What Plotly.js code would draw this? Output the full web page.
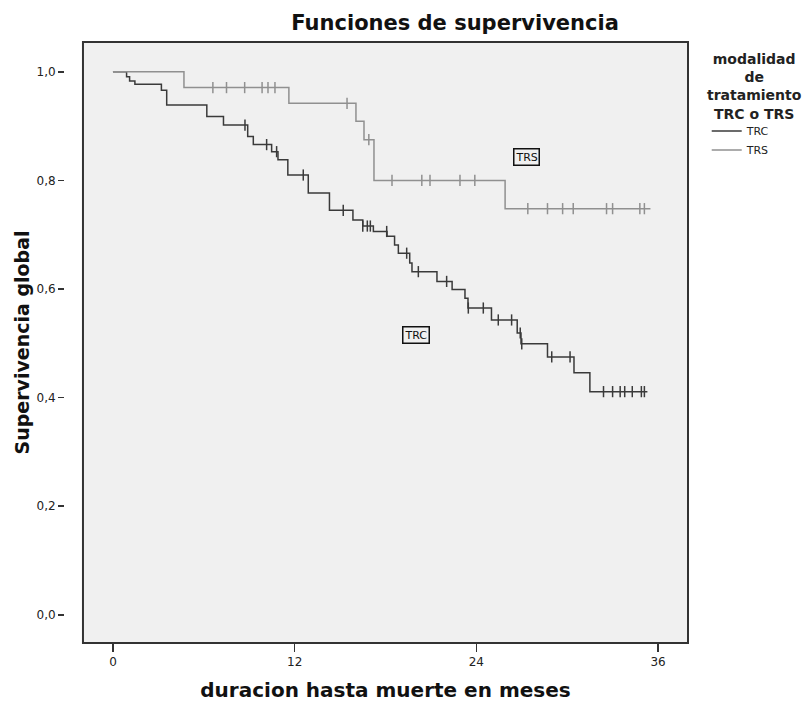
<!DOCTYPE html>
<html>
<head>
<meta charset="utf-8">
<script src="https://cdn.plot.ly/plotly-3.0.1.min.js"></script>
<style>html,body{margin:0;padding:0;background:#fff;}#chart{width:809px;height:709px;}</style>
</head>
<body>
<div id="chart"></div>
<script>
// Kaplan-Meier step data (time in months, survival after step)
const trcTimes = [0, 0.9, 1.1, 1.45, 3.2, 3.55, 6.2, 7.3, 8.9, 9.27, 10.48, 10.9, 11.55, 12.9, 14.3, 15.85, 16.5, 17.2, 18.1, 18.6, 18.85, 19.6, 19.75, 21.4, 22.4, 23.25, 23.45, 25.0, 26.7, 26.95, 28.7, 30.45, 31.5, 35.3];
const trcSurv  = [1.0, 0.991, 0.983, 0.977, 0.966, 0.939, 0.918, 0.902, 0.881, 0.866, 0.853, 0.838, 0.810, 0.777, 0.745, 0.727, 0.716, 0.706, 0.697, 0.681, 0.666, 0.648, 0.632, 0.614, 0.599, 0.583, 0.565, 0.543, 0.519, 0.499, 0.475, 0.446, 0.411, 0.411];
const trcCensored = [8.72, 10.15, 10.81, 12.57, 15.21, 16.5, 16.8, 17.0, 18.08, 19.4, 20.17, 22.04, 23.47, 24.46, 25.45, 26.33, 26.9, 27.0, 28.98, 30.19, 32.4, 33.0, 33.5, 33.8, 34.3, 34.9, 35.1];

const trsTimes = [0, 4.69, 11.62, 16.05, 16.58, 17.24, 25.9, 35.5];
const trsSurv  = [1.0, 0.971, 0.942, 0.909, 0.875, 0.800, 0.748, 0.748];
const trsCensored = [6.6, 7.5, 8.7, 9.85, 10.24, 10.7, 15.46, 16.9, 18.43, 20.4, 20.94, 22.92, 23.9, 27.4, 28.7, 29.7, 30.4, 32.6, 33.0, 34.8, 35.1];

const groupNames = ["TRC", "TRS"];
const yTicks = [0, 0.2, 0.4, 0.6, 0.8, 1.0];
const xTicks = [0, 12, 24, 36];

function survAt(times, surv, t) {
  let s = surv[0];
  for (let i = 0; i < times.length; i++) { if (times[i] <= t) s = surv[i]; }
  return s;
}

const trcColor = "#3a3a3a";
const trsColor = "#909090";
const font = "DejaVu Sans, Verdana, sans-serif";

const traces = [
  {x: trcTimes, y: trcSurv, mode: "lines", line: {shape: "hv", color: trcColor, width: 1.5}, name: groupNames[0]},
  {x: trsTimes, y: trsSurv, mode: "lines", line: {shape: "hv", color: trsColor, width: 1.5}, name: groupNames[1]},
  {x: trcCensored, y: trcCensored.map(t => survAt(trcTimes, trcSurv, t)), mode: "markers", showlegend: false,
   marker: {symbol: "line-ns", size: 8, line: {color: trcColor, width: 1.5}}, hoverinfo: "skip"},
  {x: trsCensored, y: trsCensored.map(t => survAt(trsTimes, trsSurv, t)), mode: "markers", showlegend: false,
   marker: {symbol: "line-ns", size: 8, line: {color: trsColor, width: 1.5}}, hoverinfo: "skip"}
];

// plot area: x 64..688, y 42..643 ; frame (x-axis domain) starts at 83
const layout = {
  width: 809, height: 709,
  margin: {l: 64, r: 121, t: 42, b: 66},
  paper_bgcolor: "#ffffff",
  plot_bgcolor: "rgba(0,0,0,0)",
  separators: ",.",
  font: {family: font, color: "#222"},
  title: {text: "<b>Funciones de supervivencia</b>", x: 0.5625, xanchor: "center", y: 0.968, yanchor: "middle",
          font: {size: 21, color: "#111", family: font}},
  xaxis: {
    domain: [0.0304, 1],
    range: [-1.98, 37.98], tickvals: xTicks, ticktext: xTicks.map(String),
    showgrid: false, zeroline: false, ticks: "outside", ticklen: 8, tickcolor: "#333", tickwidth: 1.5,
    showline: false,
    tickfont: {size: 12, color: "#222"},
    title: {text: "<b>duracion hasta muerte en meses</b>", font: {size: 20, color: "#111"}, standoff: 14}
  },
  yaxis: {
    anchor: "free", position: 0,
    range: [-0.052, 1.055], tickvals: yTicks, tickformat: ".1f",
    showgrid: false, zeroline: false, ticks: "outside", ticklen: 6, tickcolor: "#333", tickwidth: 1.5,
    showline: false,
    tickfont: {size: 12, color: "#222"},
    title: {text: "<b>Supervivencia global</b>", font: {size: 19, color: "#111"}, standoff: 0}
  },
  legend: {
    x: 1.03, xanchor: "left", y: 0.876, yanchor: "top",
    bgcolor: "rgba(0,0,0,0)", font: {size: 11, color: "#222"},
    itemwidth: 30, tracegroupgap: 0
  },
  shapes: [
    {type: "rect", xref: "x domain", yref: "y domain", x0: 0, x1: 1, y0: 0, y1: 1,
     fillcolor: "#f0f0f0", line: {color: "#333", width: 2}, layer: "below"}
  ],
  annotations: [
    {xref: "paper", yref: "paper", x: 1.107, y: 0.988, xanchor: "center", yanchor: "top", align: "center",
     text: "<b>modalidad<br>de<br>tratamiento<br>TRC o TRS</b>", showarrow: false,
     font: {size: 14, color: "#222"}},
    {x: 27.3, y: 0.843, xref: "x", yref: "y", text: "TRS", showarrow: false, font: {size: 11, color: "#111"},
     bordercolor: "#111", borderwidth: 1.5, borderpad: 1, bgcolor: "#f0f0f0"},
    {x: 20.0, y: 0.515, xref: "x", yref: "y", text: "TRC", showarrow: false, font: {size: 11, color: "#111"},
     bordercolor: "#111", borderwidth: 1.5, borderpad: 1, bgcolor: "#f0f0f0"}
  ]
};

Plotly.newPlot("chart", traces, layout, {displayModeBar: false, staticPlot: true});
</script>
</body>
</html>
